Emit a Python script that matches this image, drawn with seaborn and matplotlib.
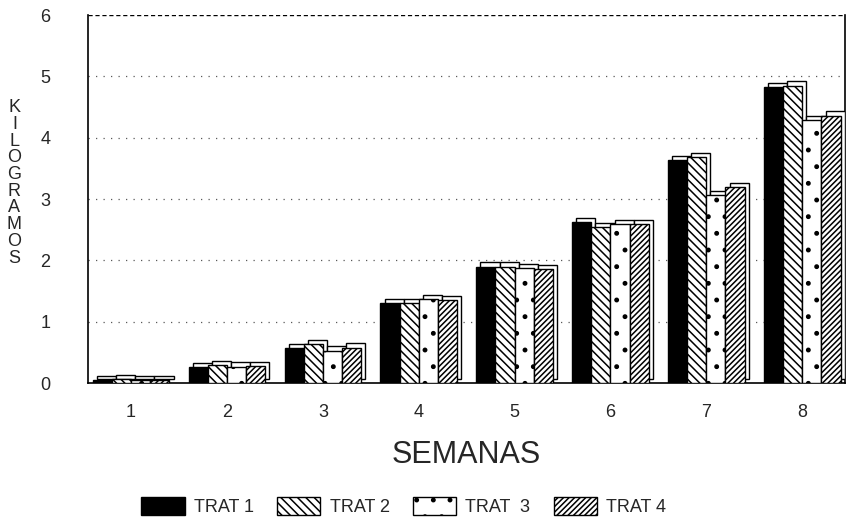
import pandas as pd
import matplotlib
matplotlib.use("Agg")
import matplotlib.pyplot as plt
import matplotlib.patheffects as pe
from matplotlib.patches import Patch
import seaborn as sns

# datos (kg por semana)
semanas = ["1", "2", "3", "4", "5", "6", "7", "8"]
trat_1 = [0.05, 0.26, 0.57, 1.31, 1.90, 2.62, 3.64, 4.83]
trat_2 = [0.06, 0.30, 0.63, 1.31, 1.90, 2.55, 3.69, 4.85]
trat_3 = [0.05, 0.27, 0.53, 1.37, 1.87, 2.59, 3.07, 4.29]
trat_4 = [0.05, 0.28, 0.58, 1.35, 1.86, 2.59, 3.20, 4.36]
tratamientos = ["TRAT 1", "TRAT 2", "TRAT  3", "TRAT 4"]

df = pd.DataFrame({
    "semana": semanas * 4,
    "kg": trat_1 + trat_2 + trat_3 + trat_4,
    "trat": [t for t in tratamientos for _ in semanas],
})

sns.set_style("white")
plt.rcParams["font.family"] = ["Liberation Sans", "DejaVu Sans"]
plt.rcParams["hatch.linewidth"] = 1.1

fig = plt.figure(figsize=(8.5, 5.27), dpi=100)
ax = fig.add_axes([0.1035, 0.273, 0.891, 0.6985])

colores = ["black", "white", "white", "white"]
tramas = ["", "\\\\\\\\", ".", "//////"]

sns.barplot(data=df, x="semana", y="kg", hue="trat", order=semanas,
            hue_order=tratamientos, palette=colores, width=0.8,
            edgecolor="black", linewidth=1, ax=ax, legend=False, zorder=3)

sombra = [pe.PathPatchEffect(offset=(3, 3), facecolor="white",
                             edgecolor="black", linewidth=1), pe.Normal()]
for cont, h in zip(ax.containers, tramas):
    for bar in cont:
        bar.set_hatch(h)
        bar.set_path_effects(sombra)

ax.set_ylim(0, 6)
ax.set_xlim(-0.45, 7.45)
ax.set_yticks(range(0, 7))
ax.tick_params(axis="both", labelsize=13, length=3, color="black")
ax.tick_params(axis="x", pad=12)
ax.tick_params(axis="y", pad=24)

# lineas de guia punteadas
for y in range(1, 6):
    ax.axhline(y, color="0.35", lw=0.9, ls=(0, (1, 5)), zorder=1)
ax.axhline(6, color="black", lw=1, ls=(0, (3, 2)), zorder=1)

for s in ["left", "bottom", "right"]:
    ax.spines[s].set_visible(True)
    ax.spines[s].set_color("black")
    ax.spines[s].set_linewidth(1.2)
ax.spines["top"].set_visible(False)

ax.set_xlabel("SEMANAS", fontsize=22, labelpad=14)
ax.set_ylabel("")
fig.text(0.017, 0.653, "\n".join("KILOGRAMOS"), fontsize=13, ha="center",
         va="center", linespacing=0.98)

handles = [Patch(facecolor=c, edgecolor="black", hatch=h, label=t)
           for c, h, t in zip(colores, tramas, tratamientos)]
fig.legend(handles=handles, loc="lower center", ncol=4, frameon=False,
           fontsize=13, handlelength=2.4, handleheight=1.1,
           columnspacing=1.3, handletextpad=0.5,
           bbox_to_anchor=(0.475, -0.01))

fig.savefig("out.png", dpi=100)
